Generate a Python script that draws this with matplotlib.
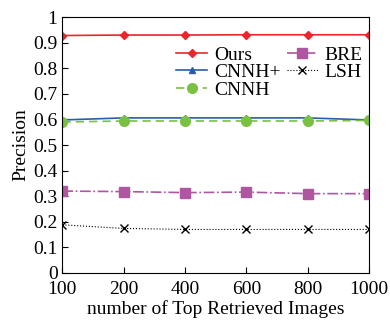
import matplotlib
matplotlib.use('Agg')
import matplotlib.pyplot as plt

plt.rcParams['font.family'] = 'Liberation Serif'

top_k = ['100', '200', '400', '600', '800', '1000']
ours = [0.928, 0.930, 0.930, 0.931, 0.931, 0.931]
cnnh_plus = [0.598, 0.606, 0.606, 0.606, 0.606, 0.598]
cnnh = [0.590, 0.594, 0.594, 0.594, 0.594, 0.596]
bre = [0.320, 0.318, 0.314, 0.316, 0.310, 0.310]
lsh = [0.188, 0.174, 0.170, 0.170, 0.170, 0.170]

fig, ax = plt.subplots(figsize=(3.9, 3.23), dpi=100)
x = range(len(top_k))

ax.plot(x, ours, color='#e8262b', marker='D', markersize=4, lw=1.2, label='Ours')
ax.plot(x, cnnh_plus, color='#2a5caa', marker='^', markersize=4, lw=1.2, label='CNNH+')
ax.plot(x, cnnh, color='#7ac143', marker='o', markersize=7, lw=1.2, ls=(0, (5, 3)), label='CNNH')
ax.plot(x, bre, color='#b0559f', marker='s', markersize=7, lw=1.2, ls='-.', label='BRE')
ax.plot(x, lsh, color='black', marker='x', markersize=6, lw=0.8, ls=':', label='LSH')

ax.set_xlim(0, len(top_k) - 1)
ax.set_ylim(0, 1)
ax.set_xticks(list(x))
ax.set_xticklabels(top_k)
ax.set_yticks([i / 10 for i in range(11)])
ax.set_yticklabels(['0', '0.1', '0.2', '0.3', '0.4', '0.5', '0.6', '0.7', '0.8', '0.9', '1'])
ax.tick_params(direction='in', labelsize=14, length=4)
ax.tick_params(axis='x', pad=6)
ax.set_xlabel('number of Top Retrieved Images', fontsize=14, labelpad=1)
ax.set_ylabel('Precision', fontsize=14, labelpad=3)

ax.legend(loc='upper left', bbox_to_anchor=(0.34, 0.925), ncol=2, frameon=False, fontsize=14,
          handlelength=1.6, handletextpad=0.35, columnspacing=0.3, labelspacing=0.0,
          borderpad=0)

fig.subplots_adjust(left=0.16, right=0.946, top=0.947, bottom=0.155)
fig.savefig('out.png')
